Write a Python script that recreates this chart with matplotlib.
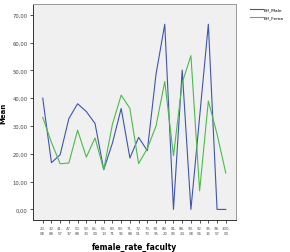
import matplotlib
matplotlib.use("Agg")
import matplotlib.pyplot as plt
import numpy as np

# female_rate_faculty categories (tick labels, two lines)
categories = ["23.\n08", "32.\n88", "41.\n57", "47.\n37", "50.\n88", "53.\n33",
              "65.\n00", "66.\n13", "69.\n71", "69.\n96", "71.\n88", "72.\n51",
              "73.\n73", "78.\n95", "80.\n20", "81.\n58", "88.\n24", "90.\n08",
              "92.\n06", "95.\n16", "98.\n57", "100.\n00"]
eff_male = [40.0, 16.8, 19.7, 32.7, 38.0, 35.2, 30.9, 14.3, 23.9, 36.3, 18.5,
            25.9, 21.1, 48.7, 66.6, 0.0, 50.1, 0.0, 33.3, 66.6, 0.0, 0.0]
eff_female = [33.1, 24.1, 16.4, 16.7, 28.5, 18.8, 25.7, 14.3, 30.7, 41.1, 36.3,
              16.5, 21.9, 30.0, 46.0, 19.3, 45.5, 55.3, 6.7, 39.0, 27.1, 13.1]
y_ticks = [0, 10, 20, 30, 40, 50, 60, 70]

x = np.arange(len(categories))

fig = plt.figure(figsize=(2.9, 2.53), dpi=100)
ax = fig.add_axes([0.114, 0.126, 0.70, 0.854])
ax.set_facecolor("#f0f0f0")

l1, = ax.plot(x, eff_male, color="#4055ad", linewidth=0.8, label="Eff_Male")
l2, = ax.plot(x, eff_female, color="#4cbb4c", linewidth=0.8, label="Eff_Fema")

ax.set_xlim(-1.11, len(categories) - 1 + 1.18)
ax.set_ylim(-3.85, 73.85)
ax.set_xticks(x)
ax.set_xticklabels(categories, fontsize=2.8, color="#555555", linespacing=1.5)
ax.set_yticks(y_ticks)
ax.set_yticklabels([f"{v:.2f}".replace(".", ",") for v in y_ticks],
                   fontsize=3.8, color="#444444")
ax.tick_params(axis="both", length=2.5, width=0.6, color="#333333", pad=1.5)

for side in ["left", "bottom"]:
    ax.spines[side].set_color("#333333")
    ax.spines[side].set_linewidth(0.7)
for side in ["top", "right"]:
    ax.spines[side].set_color("#999999")
    ax.spines[side].set_linewidth(0.7)

ax.set_ylabel("Mean", fontsize=5, fontweight="bold", labelpad=4)
ax.set_xlabel("female_rate_faculty", fontsize=5.5, fontweight="bold", labelpad=5)

fig.legend(handles=[l1, l2], loc="upper left", bbox_to_anchor=(0.855, 0.975),
           frameon=False, fontsize=3.2, handlelength=3.0, handletextpad=0.15,
           labelspacing=0.9, borderaxespad=0)

fig.savefig("out.png", dpi=100)
